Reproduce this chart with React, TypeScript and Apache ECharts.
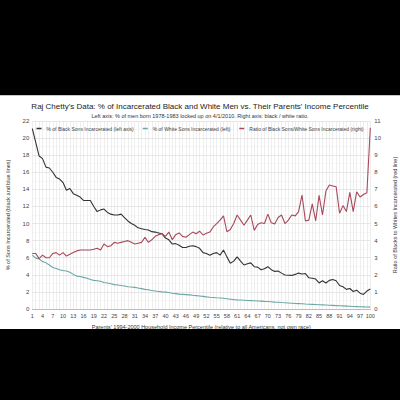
import React, { useEffect, useRef } from "react";
import * as echarts from "echarts";

const percentiles: string[] = Array.from({ length: 100 }, (_, i) => String(i + 1));

const blackSons: number[] = [
  21.1, 19.5, 17.9, 17.6, 16.6, 16.5, 16.0, 15.4, 15.2, 14.8,
  13.9, 14.1, 13.5, 13.3, 13.1, 12.7, 12.7, 12.7, 12.0, 11.4,
  11.6, 11.7, 11.3, 11.1, 11.0, 11.0, 11.1, 10.7, 10.3, 10.0,
  9.8, 9.5, 9.4, 9.3, 9.25, 9.05, 9.0, 8.9, 8.8, 8.3,
  8.1, 7.6, 7.65, 7.45, 7.2, 7.2, 7.35, 7.4, 7.3, 7.1,
  6.6, 6.5, 6.3, 6.5, 6.6, 6.3, 6.9, 6.1, 5.35, 5.6,
  6.1, 5.6, 5.15, 5.3, 5.4, 4.95, 4.9, 4.6, 4.7, 4.95,
  4.6, 4.4, 4.45, 4.2, 3.98, 3.95, 3.93, 4.05, 4.2, 4.1,
  4.15, 3.65, 3.6, 3.5, 3.05, 3.3, 3.05, 3.35, 3.45, 3.3,
  2.75, 2.6, 2.3, 2.4, 2.05, 2.2, 1.85, 1.7, 2.1, 2.35,
];

const whiteSons: number[] = [
  6.3, 5.95, 5.85, 5.55, 5.4, 5.15, 4.85, 4.75, 4.6, 4.5,
  4.45, 4.3, 4.05, 3.85, 3.8, 3.7, 3.6, 3.45, 3.35, 3.3,
  3.25, 3.1, 3.05, 2.95, 2.85, 2.8, 2.75, 2.7, 2.6, 2.57,
  2.53, 2.45, 2.38, 2.3, 2.25, 2.17, 2.1, 2.05, 2.0, 1.97,
  1.93, 1.85, 1.8, 1.74, 1.71, 1.68, 1.65, 1.6, 1.56, 1.52,
  1.48, 1.42, 1.38, 1.35, 1.31, 1.28, 1.25, 1.2, 1.15, 1.1,
  1.07, 1.05, 1.03, 1.0, 0.98, 0.96, 0.94, 0.92, 0.89, 0.87,
  0.84, 0.81, 0.79, 0.76, 0.74, 0.71, 0.68, 0.65, 0.63, 0.61,
  0.58, 0.56, 0.54, 0.52, 0.5, 0.48, 0.46, 0.44, 0.42, 0.4,
  0.38, 0.36, 0.34, 0.32, 0.3, 0.28, 0.26, 0.25, 0.24, 0.22,
];

const ratio: number[] = [
  3.25, 3.25, 2.95, 3.15, 3.0, 3.0, 3.25, 3.3, 3.15, 3.3,
  3.1, 3.2, 3.3, 3.4, 3.45, 3.45, 3.45, 3.45, 3.5, 3.55,
  3.45, 3.8, 3.65, 3.7, 3.9, 3.85, 3.9, 3.95, 4.0, 3.9,
  3.8, 3.85, 3.9, 4.2, 3.9, 4.05, 4.25, 4.35, 4.4, 4.25,
  4.5, 4.05, 4.35, 4.45, 4.25, 4.2, 4.35, 4.5, 4.4, 4.55,
  4.33, 4.43, 4.5, 4.8, 5.0, 5.2, 5.45, 4.52, 4.65, 5.0,
  5.5, 5.2, 4.9, 5.2, 5.5, 4.6, 4.95, 5.05, 5.0, 5.55,
  5.05, 4.98, 5.35, 5.5, 5.0, 5.2, 5.5, 5.45, 5.7, 6.67,
  5.15, 5.2, 6.15, 5.15, 6.65, 5.5, 6.9, 7.25, 7.2, 7.15,
  5.6, 6.05, 5.7, 6.82, 5.7, 6.85, 6.55, 6.7, 6.8, 10.6,
];

const seriesNames = [
  "% of Black Sons Incarcerated (left axis)",
  "% of White Sons Incarcerated (left)",
  "Ratio of Black Sons/White Sons Incarcerated (right)",
];

const FONT = "Liberation Sans, Arial, sans-serif";

export default function App() {
  const ref = useRef<HTMLDivElement>(null);

  useEffect(() => {
    document.body.style.margin = "0";
    document.body.style.background = "#000";
    if (!ref.current) return;
    const chart = echarts.init(ref.current, undefined, { renderer: "svg" });
    chart.setOption({
      animation: false,
      backgroundColor: "#ffffff",
      textStyle: { fontFamily: FONT },
      title: {
        text: "Raj Chetty's Data: % of Incarcerated Black and White Men vs. Their Parents' Income Percentile",
        subtext: "Left axis: % of men born 1978-1983 locked up on 4/1/2010. Right axis: black / white ratio.",
        left: "center",
        top: 1,
        itemGap: 3,
        textStyle: { fontSize: 8, fontWeight: "normal", color: "#222", fontFamily: FONT },
        subtextStyle: { fontSize: 5.5, color: "#333", fontFamily: FONT },
      },
      legend: {
        top: 25,
        left: "center",
        itemWidth: 5,
        itemHeight: 1.5,
        itemGap: 9,
        icon: "rect",
        textStyle: { fontSize: 5, color: "#444", fontFamily: FONT },
        data: seriesNames,
      },
      grid: {
        left: 32.3,
        right: 29.7,
        top: 25,
        bottom: 20,
        outerBoundsMode: "none",
      },
      xAxis: {
        type: "category",
        data: percentiles,
        boundaryGap: false,
        name: "Parents' 1994-2000 Household Income Percentile (relative to all Americans, not own race)",
        nameLocation: "middle",
        nameGap: 11,
        nameTextStyle: { fontSize: 5.5, color: "#333", fontFamily: FONT },
        axisLine: { lineStyle: { color: "#bbb", width: 1 } },
        axisTick: { show: false },
        axisLabel: { interval: 2, fontSize: 5.5, color: "#444", margin: 4, fontFamily: FONT },
        splitLine: { show: true, interval: 0, lineStyle: { color: "#e2e2e2", width: 0.6 } },
      },
      yAxis: [
        {
          type: "value",
          min: 0,
          max: 22,
          interval: 2,
          name: "% of Sons Incarcerated (black and blue lines)",
          nameLocation: "middle",
          nameGap: 21,
          nameTextStyle: { fontSize: 5.5, color: "#333", fontFamily: FONT },
          axisLine: { show: false },
          axisTick: { show: false },
          axisLabel: { fontSize: 6, color: "#444", margin: 3, fontFamily: FONT },
          splitLine: { show: true, lineStyle: { color: "#dcdcdc", width: 0.7 } },
          minorTick: { show: false, splitNumber: 2 },
          minorSplitLine: { show: true, lineStyle: { color: "#efefef", width: 0.5 } },
        },
        {
          type: "value",
          min: 0,
          max: 11,
          interval: 1,
          name: "Ratio of Blacks to Whites Incarcerated (red line)",
          nameLocation: "middle",
          nameGap: 19,
          nameTextStyle: { fontSize: 5.5, color: "#333", fontFamily: FONT },
          axisLine: { show: false },
          axisTick: { show: false },
          axisLabel: { fontSize: 6, color: "#444", margin: 4, fontFamily: FONT },
          splitLine: { show: false },
        },
      ],
      series: [
        {
          name: seriesNames[0],
          type: "line",
          yAxisIndex: 0,
          data: blackSons,
          showSymbol: false,
          color: "#333333",
          lineStyle: { width: 1.1, color: "#333333" },
          z: 3,
        },
        {
          name: seriesNames[1],
          type: "line",
          yAxisIndex: 0,
          data: whiteSons,
          showSymbol: false,
          color: "#6aa8a4",
          lineStyle: { width: 1.1, color: "#6aa8a4" },
          z: 3,
        },
        {
          name: seriesNames[2],
          type: "line",
          yAxisIndex: 1,
          data: ratio,
          showSymbol: false,
          color: "#a8495c",
          lineStyle: { width: 1.1, color: "#a8495c" },
          z: 3,
        },
      ],
    });
    return () => chart.dispose();
  }, []);

  return (
    <div style={{ position: "fixed", left: 0, top: 0, width: 400, height: 400, background: "#000" }}>
      <div
        style={{
          position: "absolute",
          left: 0,
          top: 95,
          width: 400,
          height: 1,
          background: "#c8c8c8",
        }}
      />
      <div
        ref={ref}
        style={{
          position: "absolute",
          left: 0,
          top: 96,
          width: 400,
          height: 233,
          background: "#fff",
        }}
      />
    </div>
  );
}
